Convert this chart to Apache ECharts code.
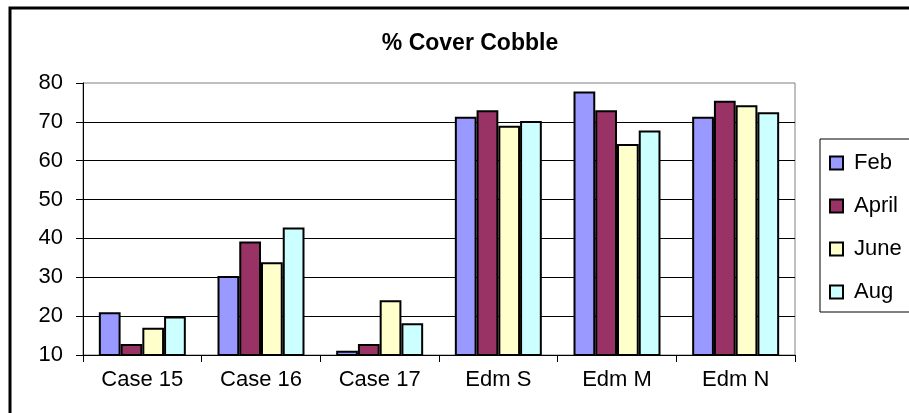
<!DOCTYPE html>
<html>
<head>
<meta charset="utf-8">
<script src="https://cdn.jsdelivr.net/npm/echarts@6/dist/echarts.min.js"></script>
<style>
  html, body { margin: 0; padding: 0; background: #fff; }
  #chart { width: 909px; height: 413px; }
</style>
</head>
<body>
<div id="chart"></div>
<script>
// Sites along the x axis
const categories = ['Case 15', 'Case 16', 'Case 17', 'Edm S', 'Edm M', 'Edm N'];

// Percent cobble cover per survey month
const feb   = [21.0, 30.3, 11.1, 71.3, 77.8, 71.3];
const april = [12.8, 39.2, 12.8, 73.0, 73.0, 75.4];
const june  = [17.0, 33.9, 24.1, 69.0, 64.3, 74.3];
const aug   = [19.9, 42.8, 18.2, 70.2, 67.8, 72.5];

const seriesNames = ['Feb', 'April', 'June', 'Aug'];
const seriesValues = [feb, april, june, aug];
const seriesColors = ['#9999FF', '#993366', '#FFFFCC', '#CCFFFF'];

const FONT = 'Liberation Sans, Arial, sans-serif';

const chart = echarts.init(document.getElementById('chart'), null, { renderer: 'canvas' });

chart.setOption({
  animation: false,
  backgroundColor: '#fff',
  title: {
    text: '% Cover Cobble',
    left: 465,
    textAlign: 'center',
    top: 27,
    textStyle: { fontFamily: FONT, fontSize: 23, fontWeight: 'bold', color: '#000' }
  },
  legend: {
    orient: 'vertical',
    left: 820,
    top: 139,
    padding: [13, 40, 9, 9],
    borderColor: '#000',
    borderWidth: 1,
    borderRadius: 0,
    itemWidth: 13,
    itemHeight: 13,
    itemGap: 21,
    icon: 'rect',
    textStyle: { fontFamily: FONT, fontSize: 22, color: '#000', padding: [0, 0, 0, 6] },
    data: seriesNames
  },
  grid: {
    left: 83, right: 114, top: 83, bottom: 58,
    show: true,
    borderColor: '#808080',
    borderWidth: 1,
    backgroundColor: '#fff'
  },
  xAxis: {
    type: 'category',
    data: categories,
    axisLine: { lineStyle: { color: '#000', width: 1 } },
    axisTick: { show: true, length: 7, lineStyle: { color: '#000' } },
    axisLabel: { fontFamily: FONT, fontSize: 22, color: '#000', margin: 14 }
  },
  yAxis: {
    type: 'value',
    min: 10,
    max: 80,
    interval: 10,
    axisLine: { show: true, lineStyle: { color: '#000', width: 1 } },
    axisTick: { show: true, length: 7, lineStyle: { color: '#000' } },
    axisLabel: { fontFamily: FONT, fontSize: 22, color: '#000', margin: 20 },
    splitLine: { show: true, showMaxLine: false, lineStyle: { color: '#000', width: 1 } }
  },
  series: seriesNames.map((name, i) => ({
    name: name,
    type: 'bar',
    data: seriesValues[i],
    barGap: '0%',
    barCategoryGap: '26.7%',
    itemStyle: { color: seriesColors[i], borderColor: '#000', borderWidth: 2 }
  })),
  graphic: [{
    type: 'rect',
    shape: { x: 10, y: 8, width: 1000, height: 500 },
    style: { fill: 'none', stroke: '#000', lineWidth: 3 },
    z: 100
  }]
});
</script>
</body>
</html>
